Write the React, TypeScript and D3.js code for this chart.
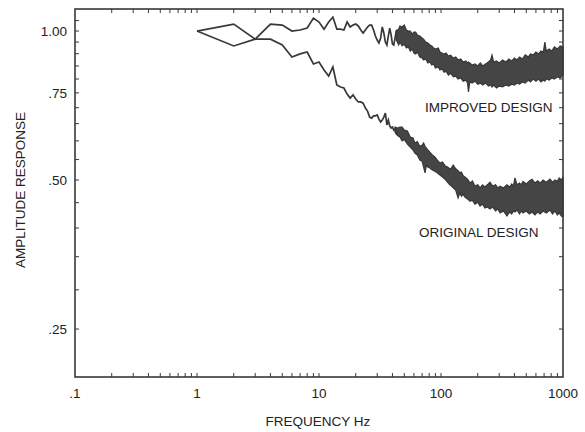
import * as d3 from 'd3';

// Amplitude response of the two designs: a line for the low frequencies
// (1 Hz steps) and a noise band (lower / upper edge) for the dense part.

const WIDTH = 585;
const HEIGHT = 432;
const PLOT = { left: 75, right: 563, top: 9, bottom: 377 };
const INK = '#383838';
const FONT = '"Liberation Sans", Arial, Helvetica, sans-serif';

const lineFreqs = [
  1, 2, 3, 4, 5, 6, 7, 8, 9, 10, 11, 12, 13, 14, 15, 16, 17, 18, 19, 20, 21, 22,
  23, 24, 25, 26, 27, 28, 29, 30, 31, 32, 33, 34, 35, 36, 37, 38, 39, 40, 41, 42,
  43, 44,
];

const improvedLine = [
  1.0, 1.033, 0.963, 1.033, 1.028, 1.0, 1.005, 1.014, 1.062, 1.043, 1.009, 1.043,
  1.067, 1.009, 1.009, 1.005, 1.043, 1.019, 1.028, 1.033, 1.024, 1.005, 0.991,
  1.005, 1.019, 1.028, 1.028, 1.005, 0.977, 0.959, 0.946, 0.968, 1.019, 0.991,
  0.95, 0.937, 0.977, 1.014, 0.982, 0.941, 0.937, 0.968, 1.0, 1.005,
];

const originalLine = [
  1.0, 0.933, 0.963, 0.963, 0.937, 0.886, 0.899, 0.907, 0.858, 0.866, 0.834,
  0.811, 0.846, 0.778, 0.771, 0.767, 0.746, 0.732, 0.743, 0.729, 0.719, 0.719,
  0.715, 0.699, 0.689, 0.67, 0.667, 0.674, 0.674, 0.677, 0.664, 0.655, 0.661,
  0.67, 0.683, 0.646, 0.661, 0.643, 0.637, 0.64, 0.631, 0.634, 0.622, 0.628,
];

// [frequency, lower edge, upper edge]
const improvedBand = [
  [43, 0.96, 1.0], [45, 0.937, 1.009], [46, 0.95, 1.024], [48, 0.933, 1.019],
  [50, 0.941, 1.028], [52, 0.924, 1.005], [54, 0.929, 1.0], [56, 0.911, 1.0],
  [58, 0.92, 0.986], [60, 0.903, 0.995], [62, 0.899, 0.995], [64, 0.907, 0.982],
  [67, 0.886, 0.977], [70, 0.882, 0.968], [72, 0.874, 0.963], [75, 0.878, 0.95],
  [78, 0.862, 0.946], [81, 0.866, 0.937], [84, 0.854, 0.933], [87, 0.858, 0.924],
  [90, 0.842, 0.92], [95, 0.846, 0.924], [98, 0.834, 0.907], [102, 0.838, 0.903],
  [106, 0.826, 0.899], [110, 0.83, 0.903], [115, 0.815, 0.89], [120, 0.822, 0.894],
  [126, 0.808, 0.882], [132, 0.811, 0.886], [138, 0.8, 0.874], [145, 0.804, 0.878],
  [152, 0.792, 0.866], [160, 0.796, 0.87], [165, 0.785, 0.862], [168, 0.753, 0.866],
  [172, 0.789, 0.862], [180, 0.785, 0.854], [190, 0.792, 0.858], [200, 0.781, 0.85],
  [210, 0.785, 0.862], [220, 0.778, 0.85], [232, 0.785, 0.858], [245, 0.774, 0.866],
  [255, 0.778, 0.874], [262, 0.771, 0.894], [270, 0.778, 0.866], [285, 0.767, 0.87],
  [300, 0.774, 0.862], [320, 0.771, 0.874], [340, 0.778, 0.866], [360, 0.774, 0.878],
  [380, 0.781, 0.87], [400, 0.778, 0.882], [420, 0.785, 0.874], [440, 0.781, 0.886],
  [465, 0.789, 0.878], [490, 0.785, 0.895], [520, 0.796, 0.886], [540, 0.789, 0.899],
  [570, 0.8, 0.895], [600, 0.792, 0.907], [630, 0.8, 0.899], [660, 0.789, 0.911],
  [690, 0.796, 0.907], [710, 0.792, 0.95], [730, 0.8, 0.911], [770, 0.796, 0.92],
  [810, 0.804, 0.911], [850, 0.8, 0.929], [900, 0.808, 0.92], [950, 0.804, 0.933],
  [1000, 0.815, 0.929],
];

const originalBand = [
  [42, 0.625, 0.64], [44, 0.615, 0.637], [46, 0.611, 0.64], [48, 0.6, 0.64],
  [50, 0.604, 0.631], [53, 0.591, 0.628], [56, 0.583, 0.611], [59, 0.575, 0.608],
  [61, 0.567, 0.594], [64, 0.562, 0.598], [67, 0.549, 0.585], [70, 0.546, 0.588],
  [72, 0.531, 0.594], [74, 0.517, 0.585], [76, 0.536, 0.58], [78, 0.531, 0.575],
  [81, 0.529, 0.569], [85, 0.524, 0.562], [89, 0.521, 0.557], [93, 0.517, 0.549],
  [98, 0.512, 0.541], [103, 0.507, 0.544], [108, 0.502, 0.534], [113, 0.495, 0.531],
  [118, 0.489, 0.527], [122, 0.486, 0.529], [126, 0.482, 0.536], [132, 0.477, 0.527],
  [138, 0.46, 0.522], [143, 0.471, 0.517], [147, 0.464, 0.519], [152, 0.468, 0.51],
  [157, 0.462, 0.507], [165, 0.458, 0.502], [173, 0.453, 0.493], [181, 0.455, 0.498],
  [190, 0.447, 0.486], [200, 0.451, 0.489], [209, 0.443, 0.482], [219, 0.447, 0.489],
  [229, 0.439, 0.484], [240, 0.441, 0.489], [252, 0.437, 0.495], [265, 0.441, 0.486],
  [280, 0.433, 0.489], [292, 0.437, 0.482], [305, 0.429, 0.486], [325, 0.433, 0.482],
  [347, 0.423, 0.489], [365, 0.431, 0.484], [380, 0.427, 0.491], [392, 0.433, 0.486],
  [404, 0.431, 0.505], [420, 0.435, 0.489], [440, 0.427, 0.493], [455, 0.433, 0.489],
  [470, 0.429, 0.497], [500, 0.433, 0.491], [530, 0.427, 0.498], [557, 0.431, 0.502],
  [590, 0.425, 0.493], [620, 0.431, 0.498], [650, 0.427, 0.493], [686, 0.433, 0.5],
  [730, 0.429, 0.495], [782, 0.435, 0.502], [820, 0.427, 0.495], [860, 0.433, 0.5],
  [900, 0.425, 0.497], [930, 0.429, 0.505], [970, 0.423, 0.5], [1000, 0.421, 0.507],
];

const xLabels = [
  [0.1, '.1'], [1, '1'], [10, '10'], [100, '100'], [1000, '1000'],
];
const yLabels = [
  [1.0, '1.00'], [0.75, '.75'], [0.5, '.50'], [0.25, '.25'],
];
const yTicks = [
  0.25, 0.3, 0.35, 0.4, 0.45, 0.5, 0.55, 0.6, 0.65, 0.7, 0.75, 0.8, 0.85, 0.9,
  0.95, 1.0, 1.05,
];

export default function App() {
  const x = d3.scaleLog().domain([0.1, 1000]).range([PLOT.left, PLOT.right]);
  const y = d3.scaleLog().domain([0.2, 1.108]).range([PLOT.bottom, PLOT.top]);

  const line = d3
    .line<number>()
    .x((_, i) => x(lineFreqs[i]))
    .y((d) => y(d));

  const area = d3
    .area<number[]>()
    .x((d) => x(d[0]))
    .y0((d) => y(d[1]))
    .y1((d) => y(d[2]));

  const xTicks = x.ticks().filter((t) => t > 0.1 && t < 1000);
  const tick = 4;

  return (
    <svg
      width={WIDTH}
      height={HEIGHT}
      style={{ position: 'absolute', left: 0, top: 0, background: '#fff' }}
      fontFamily={FONT}
    >
      <g stroke={INK} strokeWidth={1}>
        {xTicks.map((t) => (
          <g key={`x${t}`}>
            <line x1={x(t)} x2={x(t)} y1={PLOT.bottom} y2={PLOT.bottom - tick} />
            <line x1={x(t)} x2={x(t)} y1={PLOT.top} y2={PLOT.top + tick} />
          </g>
        ))}
        {yTicks.map((t) => (
          <g key={`y${t}`}>
            <line x1={PLOT.left} x2={PLOT.left + tick} y1={y(t)} y2={y(t)} />
            <line x1={PLOT.right} x2={PLOT.right - tick} y1={y(t)} y2={y(t)} />
          </g>
        ))}
      </g>

      <path d={area(improvedBand) ?? ''} fill="#454545" stroke={INK} strokeWidth={1.2} strokeLinejoin="miter" />
      <path d={area(originalBand) ?? ''} fill="#454545" stroke={INK} strokeWidth={1.2} strokeLinejoin="miter" />
      <path d={line(improvedLine) ?? ''} fill="none" stroke={INK} strokeWidth={1.7} />
      <path d={line(originalLine) ?? ''} fill="none" stroke={INK} strokeWidth={1.7} />

      <rect
        x={PLOT.left}
        y={PLOT.top}
        width={PLOT.right - PLOT.left}
        height={PLOT.bottom - PLOT.top}
        fill="none"
        stroke={INK}
        strokeWidth={1.6}
      />

      <g fontSize={13.5} fill="#222">
        {xLabels.map(([v, s]) => (
          <text key={`xl${s}`} x={x(v as number)} y={398} textAnchor="middle">
            {s}
          </text>
        ))}
        {yLabels.map(([v, s]) => (
          <text key={`yl${s}`} x={67} y={y(v as number) + 5} textAnchor="end">
            {s}
          </text>
        ))}
        <text x={318} y={426} textAnchor="middle">
          FREQUENCY Hz
        </text>
        <text transform="translate(25,190) rotate(-90)" textAnchor="middle">
          AMPLITUDE RESPONSE
        </text>
        <text x={425} y={112}>IMPROVED DESIGN</text>
        <text x={419} y={237}>ORIGINAL DESIGN</text>
      </g>
    </svg>
  );
}
